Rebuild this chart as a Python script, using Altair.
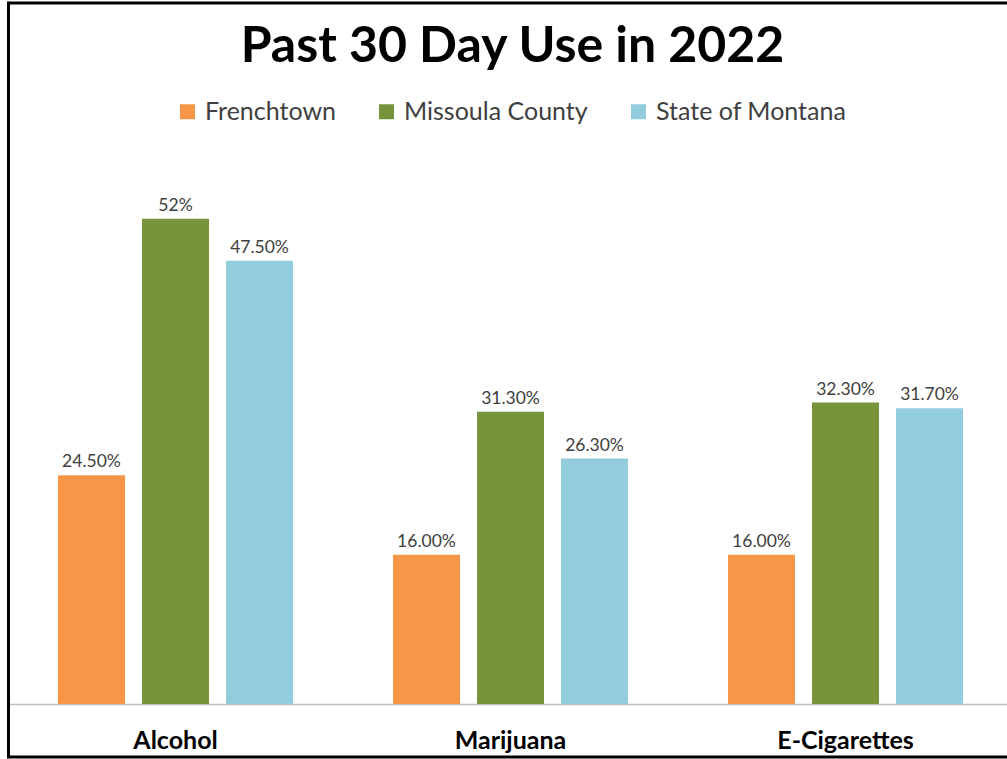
import altair as alt
import pandas as pd

categories = ["Alcohol", "Marijuana", "E-Cigarettes"]
series = ["Frenchtown", "Missoula County", "State of Montana"]
frenchtown = [24.5, 16.0, 16.0]
missoula = [52.0, 31.3, 32.3]
montana = [47.5, 26.3, 31.7]
frenchtown_labels = ["24.50%", "16.00%", "16.00%"]
missoula_labels = ["52%", "31.30%", "32.30%"]
montana_labels = ["47.50%", "26.30%", "31.70%"]
colors = ["#F79646", "#77933C", "#93CDDD"]

rows = []
for s, vals, labs in zip(series, [frenchtown, missoula, montana],
                         [frenchtown_labels, missoula_labels, montana_labels]):
    for c, v, l in zip(categories, vals, labs):
        rows.append({"category": c, "series": s, "value": v, "label": l})
df = pd.DataFrame(rows)

x = alt.X(
    "category:N", sort=categories,
    scale=alt.Scale(range=[0, 1005], paddingInner=0, paddingOuter=0),
    axis=alt.Axis(title=None, labelAngle=0, labelFont="Lato", labelFontWeight="bold",
                  labelFontSize=25, labelColor="black", labelPadding=44,
                  labelBaseline="alphabetic", ticks=False, domainColor="#BFBFBF",
                  domainWidth=1.5),
)
xo = alt.XOffset("series:N", sort=series,
                 scale=alt.Scale(paddingInner=0.2024, paddingOuter=0.595))
y = alt.Y("value:Q", scale=alt.Scale(domain=[0, 60], nice=False), axis=None)
color = alt.Color(
    "series:N", sort=series, scale=alt.Scale(domain=series, range=colors),
    legend=alt.Legend(title=None, orient="none", legendX=167, legendY=-45,
                      direction="horizontal", columns=3, symbolType="square",
                      symbolSize=225, symbolStrokeWidth=0, labelFont="Lato",
                      labelFontSize=25, labelColor="#404040", labelOffset=5,
                      labelLimit=0, columnPadding=38, padding=0),
)

base = alt.Chart(df)
bars = base.mark_bar().encode(x=x, xOffset=xo, y=y, color=color)
labels = base.mark_text(dy=-8, baseline="alphabetic", font="Lato", fontSize=17.5,
                        color="#404040").encode(x=x, xOffset=xo, y=y, text="label:N")

frame = alt.Chart(pd.DataFrame({"a": [0]})).mark_rect(
    filled=False, stroke="black", strokeWidth=3
).encode(x=alt.value(0.5), x2=alt.value(1030), y=alt.value(-141), y2=alt.value(613))

chart = alt.layer(bars, labels, frame).properties(
    width=999, height=560,
    autosize=alt.AutoSizeParams(type="none"),
    padding={"left": 8, "top": 144, "right": 0, "bottom": 55},
    background="white",
    title=alt.Title("Past 30 Day Use in 2022", font="Lato", fontSize=50,
                    fontWeight="bold", color="black", anchor="middle",
                    frame="group", offset=-110, baseline="alphabetic", dx=5),
).configure_view(stroke=None)

chart.save("out.html", embed_options={"renderer": "svg", "actions": False})
